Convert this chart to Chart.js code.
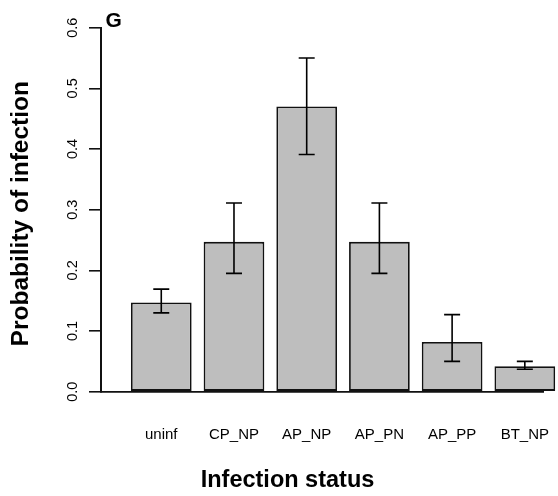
<!DOCTYPE html>
<html>
<head>
<meta charset="utf-8">
<script src="https://cdn.jsdelivr.net/npm/chart.js@4.4.1/dist/chart.umd.min.js"></script>
<style>
  html, body { margin: 0; padding: 0; background: #fff; }
  #wrap { width: 558px; height: 496px; }
</style>
</head>
<body>
<div id="wrap"><canvas id="c" width="558" height="496"></canvas></div>
<script>
const categories = ["uninf", "CP_NP", "AP_NP", "AP_PN", "AP_PP", "BT_NP"];
const probability = [0.147, 0.247, 0.470, 0.247, 0.082, 0.042];
const lowerCI = [0.130, 0.195, 0.391, 0.195, 0.050, 0.037];
const upperCI = [0.169, 0.311, 0.550, 0.311, 0.127, 0.050];
const yTicks = [0.0, 0.1, 0.2, 0.3, 0.4, 0.5, 0.6];
const yTickLabels = ["0.0", "0.1", "0.2", "0.3", "0.4", "0.5", "0.6"];
const xTitle = "Infection status";
const yTitle = "Probability of infection";
const panelLabel = "G";

const FONT = '"Liberation Sans", Arial, Helvetica, sans-serif';

const errorBars = {
  id: 'errorBars',
  afterDatasetsDraw(chart) {
    const ctx = chart.ctx, xs = chart.scales.x, ys = chart.scales.y;
    ctx.save();
    ctx.strokeStyle = '#000';
    ctx.lineWidth = 1.6;
    categories.forEach((c, i) => {
      const x = xs.getPixelForValue(i);
      const yU = ys.getPixelForValue(upperCI[i]);
      const yL = ys.getPixelForValue(lowerCI[i]);
      ctx.beginPath();
      ctx.moveTo(x, yU); ctx.lineTo(x, yL);
      ctx.moveTo(x - 8, yU); ctx.lineTo(x + 8, yU);
      ctx.moveTo(x - 8, yL); ctx.lineTo(x + 8, yL);
      ctx.stroke();
    });
    ctx.restore();
  }
};

const texts = {
  id: 'texts',
  afterDraw(chart) {
    const ctx = chart.ctx, xs = chart.scales.x, ys = chart.scales.y;
    ctx.save();
    ctx.fillStyle = '#000';
    ctx.font = '14.5px ' + FONT;
    ctx.textAlign = 'center';
    ctx.textBaseline = 'alphabetic';
    yTicks.forEach((v, i) => {
      const y = ys.getPixelForValue(v);
      ctx.save();
      ctx.translate(77, y);
      ctx.rotate(-Math.PI / 2);
      ctx.fillText(yTickLabels[i], 0, 0);
      ctx.restore();
    });
    ctx.font = '15px ' + FONT;
    categories.forEach((c, i) => {
      ctx.fillText(c, xs.getPixelForValue(i), 438.5);
    });
    ctx.font = 'bold 23.5px ' + FONT;
    ctx.fillText(xTitle, 287.5, 486.5);
    ctx.save();
    ctx.font = 'bold 24.5px ' + FONT;
    ctx.translate(28.3, 213.7);
    ctx.rotate(-Math.PI / 2);
    ctx.fillText(yTitle, 0, 0);
    ctx.restore();
    ctx.font = 'bold 21px ' + FONT;
    ctx.textAlign = 'left';
    ctx.fillText(panelLabel, 105.5, 27);
    ctx.restore();
  }
};

new Chart(document.getElementById('c'), {
  type: 'bar',
  data: {
    datasets: [{
      data: probability.map((v, i) => ({ x: i, y: v })),
      backgroundColor: '#BEBEBE',
      borderColor: '#111',
      borderWidth: 1.8,
      borderSkipped: false,
      categoryPercentage: 1.0,
      barPercentage: 0.835,
      clip: false
    }]
  },
  options: {
    responsive: false,
    animation: false,
    layout: { padding: { top: 27.7, right: 15, left: 0, bottom: 0 } },
    plugins: { legend: { display: false }, tooltip: { enabled: false } },
    scales: {
      x: {
        type: 'linear',
        offset: false,
        min: -0.829,
        max: 5.25,
        grid: { display: false, drawTicks: false, offset: false },
        border: { display: true, color: '#111', width: 1.8 },
        ticks: { display: false },
        afterBuildTicks(scale) { scale.ticks = categories.map((c, i) => ({ value: i })); },
        afterFit(scale) { scale.height = 104.3; }
      },
      y: {
        min: 0,
        max: 0.6,
        grid: { display: true, drawOnChartArea: false, drawTicks: true, tickLength: 12, color: '#111', lineWidth: 1.6 },
        border: { display: true, color: '#111', width: 2 },
        ticks: { display: false },
        afterBuildTicks(scale) { scale.ticks = yTicks.map(v => ({ value: v })); },
        afterFit(scale) { scale.width = 101; }
      }
    }
  },
  plugins: [errorBars, texts]
});
</script>
</body>
</html>
